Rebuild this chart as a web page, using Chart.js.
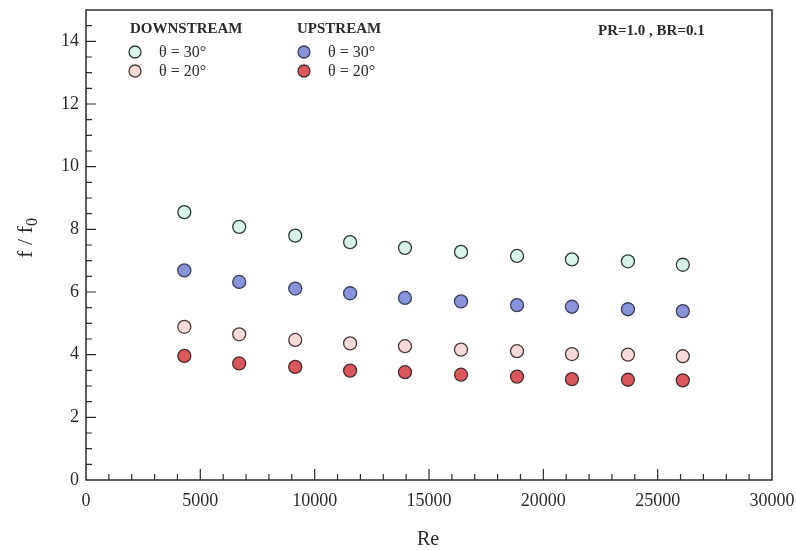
<!DOCTYPE html>
<html>
<head>
<meta charset="utf-8">
<script src="https://cdn.jsdelivr.net/npm/chart.js@4/dist/chart.umd.min.js"></script>
<style>
  html, body { margin: 0; padding: 0; background: #ffffff; }
  #wrap { width: 796px; height: 550px; }
</style>
</head>
<body>
<div id="wrap"><canvas id="c" width="796" height="550"></canvas></div>
<script>
// Reynolds numbers of the test runs
const reynolds = [4300, 6700, 9150, 11550, 13950, 16400, 18850, 21250, 23700, 26100];

// Friction factor ratio f/f0 for each arrangement
const downstream30 = [8.55, 8.08, 7.80, 7.59, 7.41, 7.28, 7.15, 7.04, 6.98, 6.87];
const upstream30   = [6.69, 6.32, 6.11, 5.96, 5.81, 5.70, 5.58, 5.53, 5.45, 5.39];
const downstream20 = [4.89, 4.65, 4.47, 4.36, 4.27, 4.16, 4.11, 4.02, 4.00, 3.95];
const upstream20   = [3.96, 3.72, 3.61, 3.49, 3.44, 3.36, 3.30, 3.22, 3.20, 3.18];

// Axis tick labels
const xTicks = [0, 5000, 10000, 15000, 20000, 25000, 30000];
const yTicks = [0, 2, 4, 6, 8, 10, 12, 14];

const SERIF = '"Liberation Serif", "Times New Roman", serif';
const INK = '#2b2b2b';

const toPoints = arr => reynolds.map((re, i) => ({ x: re, y: arr[i] }));

const series = [
  { label: 'DOWNSTREAM θ = 30°', data: downstream30, fill: '#d8f3ea', edge: '#2c3a36' },
  { label: 'DOWNSTREAM θ = 20°', data: downstream20, fill: '#f9dadb', edge: '#4a3a3a' },
  { label: 'UPSTREAM θ = 30°',   data: upstream30,   fill: '#8893d9', edge: '#3a3f5a' },
  { label: 'UPSTREAM θ = 20°',   data: upstream20,   fill: '#d9585d', edge: '#4a2c2c' }
];

// Frame, inward tick marks, axis titles and the annotated legend
const decorations = {
  id: 'decorations',
  afterDraw(chart) {
    const { ctx, chartArea: a, scales: { x, y } } = chart;
    ctx.save();
    ctx.strokeStyle = INK;
    ctx.lineWidth = 1.5;
    ctx.strokeRect(a.left, a.top, a.right - a.left, a.bottom - a.top);

    ctx.lineWidth = 1.2;
    ctx.beginPath();
    for (let v = 1000; v < 30000; v += 1000) {
      const px = x.getPixelForValue(v);
      const len = v % 5000 === 0 ? 11 : 6;
      ctx.moveTo(px, a.bottom);
      ctx.lineTo(px, a.bottom - len);
    }
    for (let v = 0.5; v < 15; v += 0.5) {
      const py = y.getPixelForValue(v);
      const len = v % 2 === 0 ? 10 : 6;
      ctx.moveTo(a.left, py);
      ctx.lineTo(a.left + len, py);
    }
    ctx.stroke();

    // x axis title
    ctx.fillStyle = INK;
    ctx.font = '20px ' + SERIF;
    ctx.textAlign = 'center';
    ctx.textBaseline = 'middle';
    ctx.fillText('Re', (a.left + a.right) / 2 - 1, 540);

    // y axis title with subscript
    ctx.save();
    ctx.translate(32, 238);
    ctx.rotate(-Math.PI / 2);
    const main = 'f / f';
    ctx.font = '22px ' + SERIF;
    const wMain = ctx.measureText(main).width;
    ctx.font = '16px ' + SERIF;
    const wSub = ctx.measureText('0').width;
    const start = -(wMain + wSub) / 2;
    ctx.textAlign = 'left';
    ctx.textBaseline = 'alphabetic';
    ctx.font = '22px ' + SERIF;
    ctx.fillText(main, start, 0);
    ctx.font = '16px ' + SERIF;
    ctx.fillText('0', start + wMain, 5);
    ctx.restore();

    // legend headings
    ctx.font = 'bold 15px ' + SERIF;
    ctx.textAlign = 'left';
    ctx.textBaseline = 'middle';
    ctx.fillText('DOWNSTREAM', 130, 29);
    ctx.fillText('UPSTREAM', 297, 29);
    ctx.fillText('PR=1.0 , BR=0.1', 598, 31);

    const items = [
      { s: series[0], cx: 135, cy: 52, text: 'θ = 30°' },
      { s: series[1], cx: 135, cy: 71, text: 'θ = 20°' },
      { s: series[2], cx: 304, cy: 52, text: 'θ = 30°' },
      { s: series[3], cx: 304, cy: 71, text: 'θ = 20°' }
    ];
    ctx.font = '16px ' + SERIF;
    items.forEach(it => {
      ctx.beginPath();
      ctx.arc(it.cx, it.cy, 6, 0, Math.PI * 2);
      ctx.fillStyle = it.s.fill;
      ctx.fill();
      ctx.lineWidth = 1.3;
      ctx.strokeStyle = it.s.edge;
      ctx.stroke();
      ctx.fillStyle = INK;
      ctx.fillText(it.text, it.cx + 24, it.cy + 1);
    });
    ctx.restore();
  }
};

new Chart(document.getElementById('c'), {
  type: 'scatter',
  data: {
    datasets: series.map(s => ({
      label: s.label,
      data: toPoints(s.data),
      pointRadius: 6.5,
      pointHoverRadius: 6.5,
      pointBackgroundColor: s.fill,
      pointBorderColor: s.edge,
      pointBorderWidth: 1.3,
      showLine: false
    }))
  },
  options: {
    responsive: false,
    animation: false,
    devicePixelRatio: 1,
    layout: { padding: { top: 10, right: 24, left: 0, bottom: 0 } },
    plugins: { legend: { display: false }, tooltip: { enabled: false } },
    scales: {
      x: {
        type: 'linear',
        min: 0,
        max: 30000,
        afterBuildTicks: s => { s.ticks = xTicks.map(v => ({ value: v })); },
        afterFit: s => { s.height = 70; s.paddingLeft = 0; s.paddingRight = 0; },
        grid: { display: false, drawTicks: false },
        border: { display: false },
        ticks: {
          font: { family: SERIF, size: 18 },
          color: INK,
          padding: 10,
          maxRotation: 0,
          callback: v => String(v)
        }
      },
      y: {
        type: 'linear',
        min: 0,
        max: 15,
        afterBuildTicks: s => { s.ticks = yTicks.map(v => ({ value: v })); },
        afterFit: s => { s.width = 86; s.paddingTop = 0; s.paddingBottom = 0; },
        grid: { display: false, drawTicks: false },
        border: { display: false },
        ticks: {
          font: { family: SERIF, size: 18 },
          color: INK,
          padding: 7,
          callback: v => String(v)
        }
      }
    }
  },
  plugins: [decorations]
});
</script>
</body>
</html>
